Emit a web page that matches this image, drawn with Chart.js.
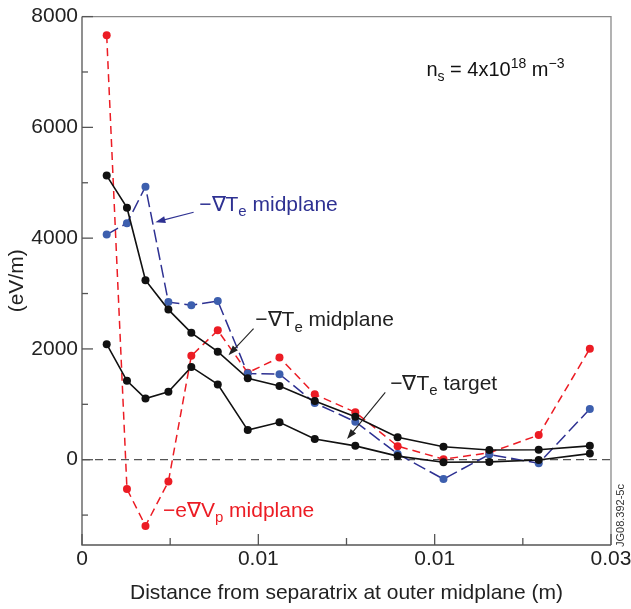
<!DOCTYPE html>
<html>
<head>
<meta charset="utf-8">
<script src="https://cdn.jsdelivr.net/npm/chart.js@4/dist/chart.umd.min.js"></script>
<style>
  body { margin: 0; background: #fff; }
</style>
</head>
<body>
<canvas id="myChart" width="631" height="609"></canvas>
<script>
// distance from separatrix (m)
var distance = [0.0014, 0.00255, 0.0036, 0.0049, 0.0062, 0.0077, 0.0094, 0.0112, 0.0132, 0.0155, 0.0179, 0.0205, 0.0231, 0.0259, 0.0288];
// -grad Te midplane (black, solid)
var teMidBlack = [5130, 4550, 3240, 2710, 2290, 1950, 1470, 1330, 1060, 775, 405, 235, 175, 180, 250];
// -grad Te target (black, solid)
var teTarget = [2085, 1425, 1105, 1225, 1675, 1360, 535, 675, 375, 250, 65, -45, -40, -5, 110];
// -grad Te midplane (blue, dashed)
var teMidBlue = [4065, 4270, 4930, 2845, 2790, 2865, 1555, 1545, 1025, 685, 105, -350, 95, -65, 915];
// -e grad Vp midplane (red, dashed)
var eVpMid = [7665, -530, -1195, -395, 1875, 2335, 1570, 1845, 1180, 855, 245, 10, 125, 445, 2005];

var xTicks = [0, 0.005, 0.01, 0.015, 0.02, 0.025, 0.03];
var xTickLabels = ['0', '', '0.01', '', '0.01', '', '0.03'];
var yTicks = [-1000, 0, 1000, 2000, 3000, 4000, 5000, 6000, 7000, 8000];
var yTickLabels = ['', '0', '', '2000', '', '4000', '', '6000', '', '8000'];

var FONT = "'Liberation Sans', Arial, Helvetica, sans-serif";
var RED = '#ec1c24', BLUE = '#2e3192', BLUEPT = '#3d5fae', BLACK = '#111111';

function pts(ys) {
  return distance.map(function (x, i) { return { x: x, y: ys[i] }; });
}

// text labels placed in data coordinates; runs: [text, kind] kind = n / sub / sup
var notes = [
  { x: 0.00665, y: 4487, color: BLUE, size: 21, runs: [['\u2212\u2207T', 'n'], ['e', 'sub'], [' midplane', 'n']] },
  { x: 0.00983, y: 2409, color: '#222', size: 21, runs: [['\u2212\u2207T', 'n'], ['e', 'sub'], [' midplane', 'n']] },
  { x: 0.01748, y: 1256, color: '#222', size: 21, runs: [['\u2212\u2207T', 'n'], ['e', 'sub'], [' target', 'n']] },
  { x: 0.00459, y: -1027, color: RED, size: 21, runs: [['\u2212e\u2207V', 'n'], ['p', 'sub'], [' midplane', 'n']] },
  { x: 0.01953, y: 6932, color: '#111', size: 20, runs: [['n', 'n'], ['s', 'sub'], [' = 4x10', 'n'], ['18', 'sup'], [' m', 'n'], ['\u22123', 'sup']] }
];
var arrows = [
  { from: [0.00633, 4469], to: [0.00416, 4289], color: BLUE },
  { from: [0.00973, 2368], to: [0.00831, 1887], color: '#222' },
  { from: [0.0172, 1215], to: [0.01503, 373], color: '#222' }
];

var decor = {
  id: 'decor',
  beforeDatasetsDraw: function (chart) {
    var ctx = chart.ctx, a = chart.chartArea, xs = chart.scales.x, ys = chart.scales.y;
    ctx.save();
    // zero line
    var y0 = ys.getPixelForValue(0);
    ctx.strokeStyle = '#555';
    ctx.lineWidth = 1.2;
    ctx.setLineDash([8, 5]);
    ctx.beginPath();
    ctx.moveTo(a.left, y0);
    ctx.lineTo(a.right, y0);
    ctx.stroke();
    ctx.setLineDash([]);
    // frame
    ctx.strokeStyle = '#8a8a8a';
    ctx.lineWidth = 1.3;
    ctx.beginPath();
    ctx.moveTo(a.left, a.top);
    ctx.lineTo(a.right, a.top);
    ctx.lineTo(a.right, a.bottom);
    ctx.stroke();
    ctx.strokeStyle = '#555';
    ctx.beginPath();
    ctx.moveTo(a.left, a.top);
    ctx.lineTo(a.left, a.bottom);
    ctx.lineTo(a.right, a.bottom);
    ctx.stroke();
    // inward ticks
    yTicks.forEach(function (v, i) {
      var p = ys.getPixelForValue(v);
      var len = yTickLabels[i] ? 11 : 6;
      ctx.beginPath();
      ctx.moveTo(a.left, p);
      ctx.lineTo(a.left + len, p);
      ctx.stroke();
    });
    xTicks.forEach(function (v, i) {
      var p = xs.getPixelForValue(v);
      var len = xTickLabels[i] ? 11 : 7;
      ctx.beginPath();
      ctx.moveTo(p, a.bottom);
      ctx.lineTo(p, a.bottom - len);
      ctx.stroke();
    });
    ctx.restore();
  },
  afterDatasetsDraw: function (chart) {
    var ctx = chart.ctx, a = chart.chartArea, xs = chart.scales.x, ys = chart.scales.y;
    ctx.save();
    ctx.textBaseline = 'alphabetic';
    ctx.textAlign = 'left';
    notes.forEach(function (n) {
      var px = xs.getPixelForValue(n.x), py = ys.getPixelForValue(n.y);
      ctx.fillStyle = n.color;
      n.runs.forEach(function (r) {
        var size = n.size, dy = 0;
        if (r[1] === 'sub') { size = Math.round(n.size * 0.72); dy = n.size * 0.25; }
        if (r[1] === 'sup') { size = Math.round(n.size * 0.72); dy = -n.size * 0.38; }
        ctx.font = size + 'px ' + FONT;
        ctx.fillText(r[0], px, py + dy);
        px += ctx.measureText(r[0]).width;
      });
    });
    arrows.forEach(function (ar) {
      var x1 = xs.getPixelForValue(ar.from[0]), y1 = ys.getPixelForValue(ar.from[1]);
      var x2 = xs.getPixelForValue(ar.to[0]), y2 = ys.getPixelForValue(ar.to[1]);
      var ang = Math.atan2(y2 - y1, x2 - x1);
      ctx.strokeStyle = ar.color;
      ctx.fillStyle = ar.color;
      ctx.lineWidth = 1.1;
      ctx.beginPath();
      ctx.moveTo(x1, y1);
      ctx.lineTo(x2 - 6 * Math.cos(ang), y2 - 6 * Math.sin(ang));
      ctx.stroke();
      ctx.beginPath();
      ctx.moveTo(x2, y2);
      ctx.lineTo(x2 - 10 * Math.cos(ang) + 3.5 * Math.sin(ang), y2 - 10 * Math.sin(ang) - 3.5 * Math.cos(ang));
      ctx.lineTo(x2 - 10 * Math.cos(ang) - 3.5 * Math.sin(ang), y2 - 10 * Math.sin(ang) + 3.5 * Math.cos(ang));
      ctx.closePath();
      ctx.fill();
    });
    // figure id
    ctx.translate(a.right + 10, a.bottom + 2);
    ctx.rotate(-Math.PI / 2);
    ctx.font = '11px ' + FONT;
    ctx.fillStyle = '#333';
    ctx.textBaseline = 'middle';
    ctx.fillText('JG08.392-5c', 0, 0);
    ctx.restore();
  }
};

var ctx = document.getElementById('myChart').getContext('2d');

var myChart = new Chart(ctx, {
  type: 'scatter',
  data: {
    datasets: [{
      label: '-grad Te midplane',
      data: pts(teMidBlack),
      showLine: true,
      borderColor: BLACK,
      backgroundColor: BLACK,
      borderWidth: 1.6,
      pointRadius: 4,
      pointBorderWidth: 0
    }, {
      label: '-grad Te target',
      data: pts(teTarget),
      showLine: true,
      borderColor: BLACK,
      backgroundColor: BLACK,
      borderWidth: 1.6,
      pointRadius: 4,
      pointBorderWidth: 0
    }, {
      label: '-grad Te midplane (blue)',
      data: pts(teMidBlue),
      showLine: true,
      borderColor: BLUE,
      backgroundColor: BLUEPT,
      borderWidth: 1.5,
      borderDash: [13, 5],
      pointRadius: 4,
      pointBorderWidth: 0
    }, {
      label: '-e grad Vp midplane',
      data: pts(eVpMid),
      showLine: true,
      borderColor: RED,
      backgroundColor: RED,
      borderWidth: 1.5,
      borderDash: [8, 5],
      pointRadius: 4,
      pointBorderWidth: 0
    }]
  },
  options: {
    responsive: false,
    animation: false,
    layout: { padding: { top: 16, right: 20, left: 0, bottom: 0 } },
    plugins: {
      legend: { display: false },
      tooltip: { enabled: false }
    },
    scales: {
      x: {
        type: 'linear',
        min: 0,
        max: 0.03,
        border: { display: false },
        grid: { display: false, drawTicks: false },
        afterBuildTicks: function (s) { s.ticks = xTicks.map(function (v) { return { value: v }; }); },
        afterFit: function (s) { s.height = 64; s.paddingLeft = 0; s.paddingRight = 0; },
        ticks: {
          autoSkip: false,
          maxRotation: 0,
          padding: 2,
          color: '#222',
          font: { family: FONT, size: 21 },
          callback: function (v, i) { return xTickLabels[i]; }
        },
        title: {
          display: true,
          text: 'Distance from separatrix at outer midplane (m)',
          color: '#222',
          font: { family: FONT, size: 21 },
          padding: { top: 0, bottom: 3 }
        }
      },
      y: {
        min: -1540,
        max: 8000,
        border: { display: false },
        grid: { display: false, drawTicks: false },
        afterBuildTicks: function (s) { s.ticks = yTicks.map(function (v) { return { value: v }; }); },
        afterFit: function (s) { s.width = 82; },
        ticks: {
          autoSkip: false,
          padding: 4,
          color: '#222',
          font: { family: FONT, size: 21 },
          callback: function (v, i) { return yTickLabels[i]; }
        },
        title: {
          display: true,
          text: '(eV/m)',
          color: '#222',
          font: { family: FONT, size: 21 },
          padding: { top: 5, bottom: 0 }
        }
      }
    }
  },
  plugins: [decor]
});
</script>
</body>
</html>
